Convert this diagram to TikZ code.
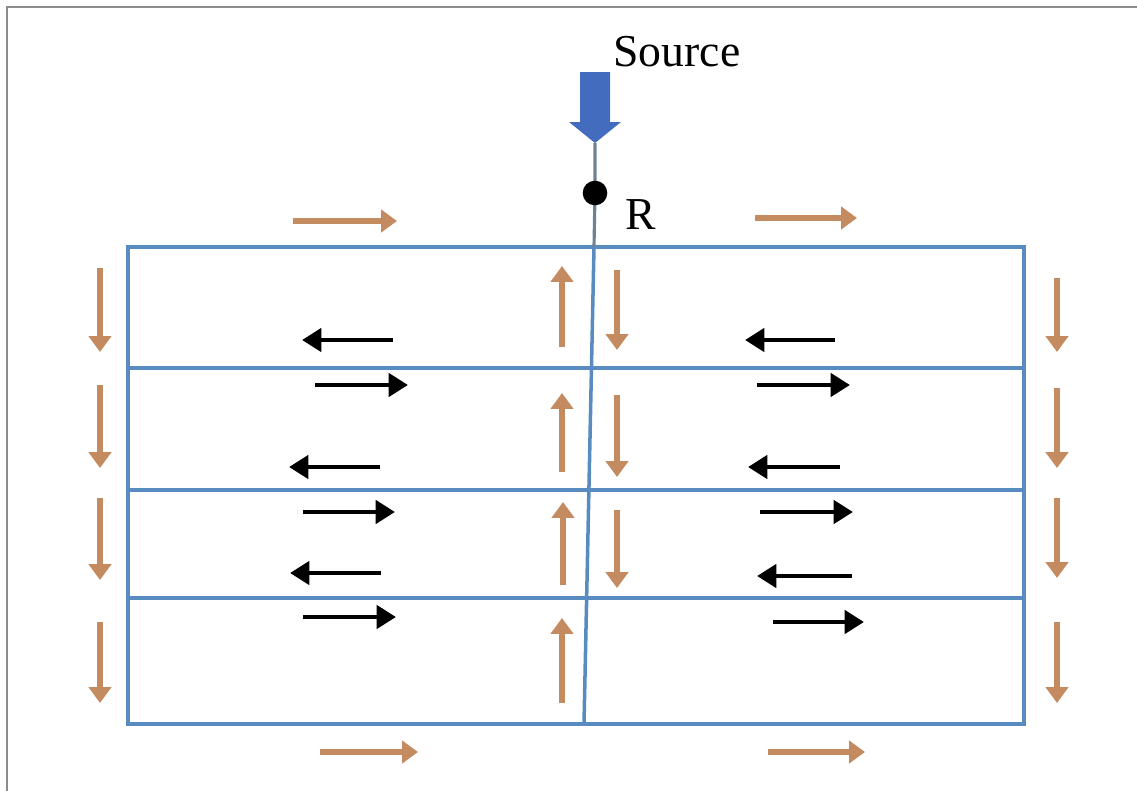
\documentclass[tikz,border=0pt]{standalone}
\usepackage{fontspec}
\setmainfont{Liberation Serif}
\usetikzlibrary{arrows.meta}
\definecolor{gridblue}{RGB}{88,140,192}
\definecolor{flowor}{RGB}{196,138,96}
\definecolor{srcblue}{RGB}{68,108,190}
\definecolor{stemgray}{RGB}{110,130,150}
\definecolor{bordergray}{RGB}{140,140,140}
\tikzset{
  gridline/.style={draw=gridblue,line width=2.4pt},
  orflow/.style={draw=flowor,line width=3.4pt,-{Triangle[length=9pt,width=12.5pt]}},
  bkflow/.style={draw=black,line width=2.8pt,-{Triangle[length=11pt,width=13pt]}},
  lbl/.style={inner sep=0pt,font=\fontsize{26}{30}\selectfont},
  rdotstyle/.style={circle,fill=black,minimum size=14pt,inner sep=0pt}
}
\begin{document}
\begin{tikzpicture}[x=0.02cm,y=-0.02cm]
\useasboundingbox (0,0) rectangle (1137,791);
% frame
\draw[bordergray,line width=1.2pt] (7,791) -- (7,7) -- (1137,7);
% grid
\draw[gridline] (128,247) rectangle (1024,724);
\draw[gridline] (128,368) -- (1024,368);
\draw[gridline] (128,490) -- (1024,490);
\draw[gridline] (128,598) -- (1024,598);
\coordinate (ctop) at (594,247);
\coordinate (cbot) at (584,724);
\draw[gridline,line width=2pt] (ctop) -- (cbot);
% source
\node[lbl] (src) at (677,52) {Source};
\coordinate (tip) at (595,143);
\coordinate (dotc) at (595,193);
\draw[stemgray,line width=1.8pt] (tip) -- (dotc) -- (594,247);
\node[rdotstyle] (rdot) at (dotc) {};
\node[lbl] (R) at (641,215) {R};
\fill[srcblue] (580,72) -- (610,72) -- (610,122) -- (621,122) -- (tip) -- (569,122) -- (580,122) -- cycle;
% orange outer flows
\draw[orflow] (293,221) -- (397,221);
\draw[orflow] (755,218) -- (857,218);
\draw[orflow] (320,752) -- (418,752);
\draw[orflow] (768,752) -- (865,752);
\foreach \a/\b in {268/352,385/468,498/580,622/703}{
  \draw[orflow] (100,\a) -- (100,\b);
}
\foreach \a/\b in {278/352,388/468,498/578,622/703}{
  \draw[orflow] (1057,\a) -- (1057,\b);
}
% orange centre flows
\draw[orflow] (562,347) -- (562,266);
\draw[orflow] (562,472) -- (562,393);
\draw[orflow] (563,585) -- (563,502);
\draw[orflow] (562,703) -- (562,618);
\draw[orflow] (617,270) -- (617,350);
\draw[orflow] (617,395) -- (617,477);
\draw[orflow] (617,510) -- (617,588);
% black flows left
\draw[bkflow] (393,340) -- (302,340);
\draw[bkflow] (315,385) -- (408,385);
\draw[bkflow] (380,467) -- (289,467);
\draw[bkflow] (303,512) -- (395,512);
\draw[bkflow] (381,573) -- (290,573);
\draw[bkflow] (303,617) -- (396,617);
% black flows right
\draw[bkflow] (835,340) -- (745,340);
\draw[bkflow] (757,385) -- (850,385);
\draw[bkflow] (840,467) -- (748,467);
\draw[bkflow] (760,512) -- (853,512);
\draw[bkflow] (852,576) -- (757,576);
\draw[bkflow] (773,622) -- (864,622);
\end{tikzpicture}
\end{document}
